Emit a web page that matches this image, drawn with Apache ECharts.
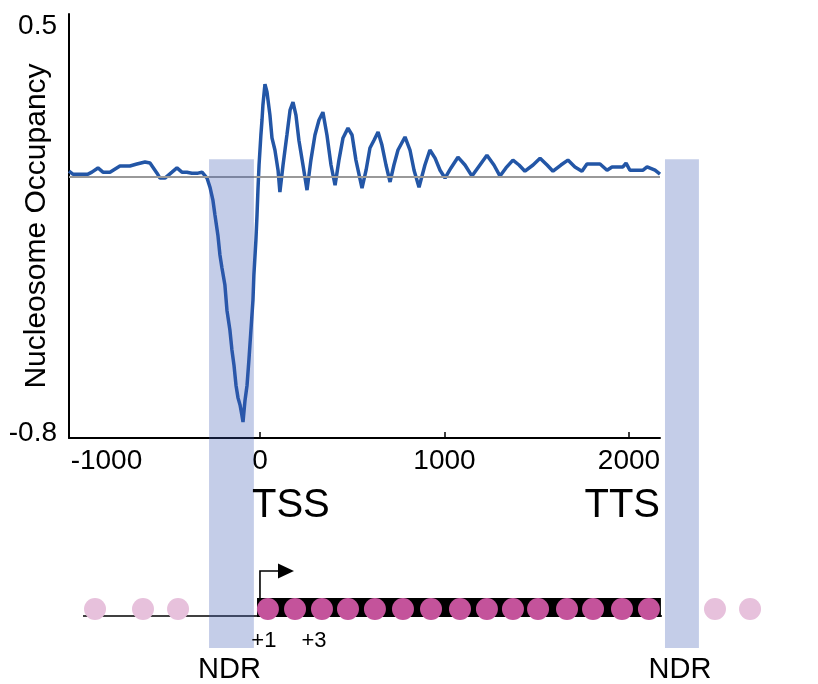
<!DOCTYPE html>
<html>
<head>
<meta charset="utf-8">
<style>
html, body { margin: 0; padding: 0; background: #fff; }
#chart { width: 818px; height: 684px; }
</style>
<script src="https://cdn.jsdelivr.net/npm/echarts@6/dist/echarts.min.js"></script>
</head>
<body>
<div id="chart"></div>
<script>
// position relative to TSS (bp)
var positions = [-1035, -1014, -932, -911, -878, -851, -813, -759, -705, -667, -623, -596, -558, -542, -515,
  -477, -450, -423, -396, -369, -336, -314, -287, -271, -255, -244, -228, -217, -206, -190, -179, -163,
  -152, -141, -130, -119, -108, -98, -92, -81, -70, -60, -49, -38, -33, -22, -16, -11, -5, 0, 5, 11, 16,
  27, 38, 54, 65, 81, 98, 108, 125, 146, 163, 179, 195, 211, 233, 255, 276, 298, 320, 341, 363, 385, 407,
  428, 450, 477, 499, 520, 553, 575, 596, 618, 640, 661, 683, 705, 726, 748, 786, 813, 835, 862, 894, 921,
  949, 976, 1003, 1035, 1073, 1111, 1149, 1192, 1230, 1268, 1301, 1333, 1371, 1404, 1436, 1480, 1518,
  1556, 1588, 1631, 1669, 1707, 1745, 1772, 1843, 1881, 1908, 1967, 1984, 2005, 2076, 2098, 2141, 2168];
var occupancy = [0.018, 0.009, 0.009, 0.015, 0.028, 0.015, 0.015, 0.034, 0.034, 0.040, 0.046, 0.043, 0.012, -0.003, -0.003,
  0.015, 0.028, 0.015, 0.015, 0.012, 0.012, 0.015, -0.003, -0.031, -0.071, -0.116, -0.178, -0.239, -0.279, -0.331, -0.408, -0.469,
  -0.530, -0.576, -0.638, -0.677, -0.699, -0.730, -0.751, -0.684, -0.638, -0.561, -0.469, -0.377, -0.300, -0.193, -0.116, -0.040, 0.037, 0.083, 0.129, 0.175, 0.221,
  0.285, 0.261, 0.190, 0.120, 0.083, 0.021, -0.046, 0.037, 0.129, 0.205, 0.230, 0.190, 0.113, 0.037, -0.040, 0.052, 0.129, 0.175, 0.199, 0.129, 0.037, -0.025,
  0.052, 0.120, 0.150, 0.129, 0.052, -0.034, 0.021, 0.089, 0.113, 0.138, 0.098, 0.037, -0.015, 0.037, 0.083, 0.123, 0.083, 0.021, -0.031, 0.037, 0.083,
  0.058, 0.021, -0.003, 0.028, 0.061, 0.037, 0.003, 0.037, 0.067, 0.037, 0.003, 0.028, 0.052, 0.037, 0.018, 0.037, 0.058,
  0.037, 0.018, 0.037, 0.052, 0.031, 0.018, 0.040, 0.040, 0.021, 0.031, 0.031, 0.043, 0.021, 0.021, 0.031, 0.021, 0.009];
var xTicks = [-1000, 0, 1000, 2000];
var yTicks = [-0.8, 0.5];

// gene model
var nucleosomes = [43, 190, 336, 477, 623, 775, 927, 1084, 1230, 1371, 1507, 1664, 1805, 1962, 2108];
var flankNucleosomes = [-894, -634, -444, 2466, 2656];
var gene = [-16, 2173];
var dna = [-959, 3024];
var ndrs = [[-276, -33], [2195, 2379]];
var tss = 0, tts = 2168;

var xMin = -1035, xMax = 2168;
var font = 'Liberation Sans';

var chart = echarts.init(document.getElementById('chart'));

var option = {
  animation: false,
  grid: [
    { left: 69, top: 14, width: 591, height: 424, outerBoundsMode: 'none', containLabel: false },
    { left: 69, top: 579, width: 591, height: 60, outerBoundsMode: 'none', containLabel: false }
  ],
  xAxis: [
    {
      type: 'value', gridIndex: 0, min: xMin, max: xMax,
      splitLine: { show: false },
      axisLine: { onZero: false, lineStyle: { color: '#000', width: 2 } },
      axisTick: { inside: true, length: 6, lineStyle: { color: '#000', width: 1.5 }, customValues: [0, 1000, 2000] },
      axisLabel: {
        customValues: xTicks, margin: 9, color: '#000', fontSize: 28, fontFamily: font,
        formatter: function (v) { return v === -1000 ? '{pad|-1000}' : String(v); },
        rich: { pad: { padding: [0, 0, 0, 62], fontSize: 28, fontFamily: font, color: '#000' } }
      }
    },
    { type: 'value', gridIndex: 1, min: xMin, max: xMax, show: false }
  ],
  yAxis: [
    {
      type: 'value', gridIndex: 0, min: -0.8, max: 0.5,
      name: 'Nucleosome Occupancy', nameLocation: 'middle', nameRotate: 90, nameGap: 17,
      nameMoveOverlap: false,
      nameTextStyle: { fontSize: 30, fontFamily: font, color: '#000' },
      splitLine: { show: false },
      axisLine: { show: true, onZero: false, lineStyle: { color: '#000', width: 2 } },
      axisTick: { show: false },
      axisLabel: {
        customValues: yTicks, margin: 12, color: '#000', fontSize: 28, fontFamily: font,
        formatter: function (v) { return v > 0 ? '{top|' + v + '}' : '{bot|' + v + '}'; },
        rich: {
          top: { padding: [24, 0, 0, 0], fontSize: 28, fontFamily: font, color: '#000' },
          bot: { padding: [0, 0, 10, 0], fontSize: 28, fontFamily: font, color: '#000' }
        }
      }
    },
    { type: 'value', gridIndex: 1, min: -1, max: 1, show: false }
  ],
  series: [
    {
      type: 'line', xAxisIndex: 0, yAxisIndex: 0, data: [], z: 1,
      markLine: {
        silent: true, symbol: 'none', label: { show: false },
        lineStyle: { color: '#999', width: 2, type: 'solid' },
        data: [{ yAxis: 0 }]
      }
    },
    {
      type: 'line', xAxisIndex: 0, yAxisIndex: 0, z: 3,
      data: positions.map(function (p, i) { return [p, occupancy[i]]; }),
      showSymbol: false, symbol: 'none',
      lineStyle: { color: '#2356a6', width: 3.5 }
    },
    {
      type: 'line', xAxisIndex: 1, yAxisIndex: 1, clip: false, symbol: 'none', z: 1,
      data: [[dna[0], -0.233], [dna[1], -0.233]],
      lineStyle: { color: '#000', width: 1.5 }
    },
    {
      type: 'line', xAxisIndex: 1, yAxisIndex: 1, clip: false, symbol: 'none', z: 2,
      data: [[gene[0], 0.05], [gene[1], 0.05]],
      lineStyle: { color: '#000', width: 19, cap: 'butt' }
    },
    {
      type: 'scatter', xAxisIndex: 1, yAxisIndex: 1, clip: false, z: 3,
      data: flankNucleosomes.map(function (p) { return [p, 0]; }),
      symbolSize: 22, itemStyle: { color: '#e7c1dc', opacity: 1 }
    },
    {
      type: 'scatter', xAxisIndex: 1, yAxisIndex: 1, clip: false, z: 3,
      data: nucleosomes.map(function (p) { return [p, 0]; }),
      symbolSize: 22, itemStyle: { color: '#c4539b', opacity: 1 }
    }
  ]
};
chart.setOption(option);

function px0(x, y) { return chart.convertToPixel({ xAxisIndex: 0, yAxisIndex: 0 }, [x, y]); }
function px1(x, y) { return chart.convertToPixel({ xAxisIndex: 1, yAxisIndex: 1 }, [x, y]); }

var elements = [];
ndrs.forEach(function (r) {
  var a = px0(r[0], 0.055), b = px1(r[1], -1.3);
  elements.push({
    type: 'rect', z: 100, silent: true,
    shape: { x: a[0], y: a[1], width: b[0] - a[0], height: b[1] - a[1] },
    style: { fill: 'rgba(60,90,180,0.3)' }
  });
  elements.push({
    type: 'text', z: 101,
    x: (a[0] + b[0]) / 2 - 2, y: b[1] + 22,
    style: { text: 'NDR', fontSize: 29, fontFamily: font, fill: '#000', align: 'center', verticalAlign: 'middle' }
  });
});

var axisY = px0(tss, -0.8)[1];
elements.push({
  type: 'text', z: 101, x: px0(tss, 0)[0] - 8, y: axisY + 68,
  style: { text: 'TSS', fontSize: 40, fontFamily: font, fill: '#000', align: 'left', verticalAlign: 'middle' }
});
elements.push({
  type: 'text', z: 101, x: px0(tts, 0)[0], y: axisY + 68,
  style: { text: 'TTS', fontSize: 40, fontFamily: font, fill: '#000', align: 'right', verticalAlign: 'middle' }
});

// +1 and +3 labels
[[0, '+1'], [2, '+3']].forEach(function (d) {
  var p = px1(nucleosomes[d[0]], 0);
  elements.push({
    type: 'text', z: 101, x: p[0] - 4 - d[0] * 2, y: p[1] + 32,
    style: { text: d[1], fontSize: 22, fontFamily: font, fill: '#000', align: 'center', verticalAlign: 'middle' }
  });
});

// transcription arrow
var t = px1(tss, 0.05);
var barTop = t[1] - 9.5;
var ay = barTop - 27;
elements.push({
  type: 'polyline', z: 101, silent: true,
  shape: { points: [[t[0], barTop], [t[0], ay], [t[0] + 20, ay]] },
  style: { stroke: '#000', lineWidth: 1.6, fill: null }
});
elements.push({
  type: 'polygon', z: 101, silent: true,
  shape: { points: [[t[0] + 18, ay - 7.5], [t[0] + 34, ay], [t[0] + 18, ay + 7.5]] },
  style: { fill: '#000' }
});

chart.setOption({ graphic: { elements: elements } });
</script>
</body>
</html>
